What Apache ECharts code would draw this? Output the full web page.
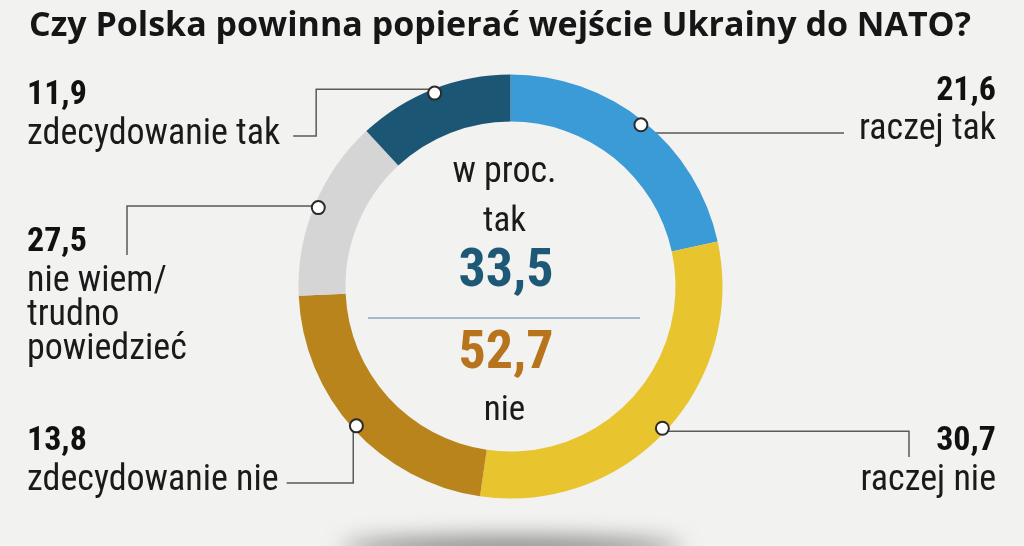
<!DOCTYPE html>
<html><head><meta charset="utf-8">
<script src="https://cdn.jsdelivr.net/npm/echarts/dist/echarts.min.js"></script>
<style>html,body{margin:0;padding:0;background:#f2f2f0}#c{width:1024px;height:546px}</style>
</head><body><div id="c"></div><script>
// ---- data ----
const title = 'Czy Polska powinna popierać wejście Ukrainy do NATO?';
const categories = ['raczej tak', 'raczej nie', 'zdecydowanie nie', 'nie wiem/\ntrudno\npowiedzieć', 'zdecydowanie tak'];
const sliceValues = [21.6, 30.7, 22.0, 13.8, 11.9];       // arc sizes as drawn
const labelValues = ['21,6', '30,7', '13,8', '27,5', '11,9']; // numbers as printed
const colors = ['#3a9bd7', '#e8c42f', '#b8841b', '#d5d5d5', '#1b5774'];
const yesIdx = [0, 4];
const noIdx = [1, 2];
const centerTexts = ['w proc.', 'tak', 'nie'];

// ---- layout ----
const FONT = '"Roboto Condensed","Liberation Sans Narrow","DejaVu Sans Condensed",Roboto,sans-serif';
const TFONT = '"Open Sans",Roboto,sans-serif';
const CX = 510.5, CY = 286.5, R0 = 165, R1 = 212;
const TX = 504.5;
const SIDE = ['R', 'R', 'L', 'L', 'L'];
const ANCHOR = [
  { x: 996, y: 69 }, { x: 996, y: 419.5 }, { x: 27, y: 419.5 }, { x: 27, y: 220.5 }, { x: 27, y: 73.5 }
];

function fmt(v) { return v.toFixed(1).replace('.', ','); }
const yesSum = yesIdx.reduce((a, i) => a + sliceValues[i], 0);
const noSum = noIdx.reduce((a, i) => a + sliceValues[i], 0);
const total = sliceValues.reduce((a, b) => a + b, 0);
let cum = 0;
const markerData = sliceValues.map(v => { const m = (cum + v / 2) / total * 100; cum += v; return [98, m]; });

function leader(i, s, w) {
  const a = ANCHOR[i];
  switch (i) {
    case 0: return [s, [s[0], a.y + 64], [a.x - w - 15, a.y + 64]];
    case 1: return [s, [a.x - 87, s[1]], [a.x - 87, a.y + 37.5]];
    case 2: return [s, [s[0], a.y + 63.5], [a.x + w + 8, a.y + 63.5]];
    case 3: return [s, [a.x + 100, s[1]], [a.x + 100, a.y + 34.5]];
    case 4: return [s, [a.x + w + 36, s[1]], [a.x + w + 36, a.y + 62.5], [a.x + w + 13, a.y + 62.5]];
  }
}

const rich = {
  vL: { fontFamily: FONT, fontSize: 34, fontWeight: 'bold', color: '#111', lineHeight: 44, align: 'left' },
  nL: { fontFamily: FONT, fontSize: 36, color: '#1a1a1a', lineHeight: 34, align: 'left' },
  vR: { fontFamily: FONT, fontSize: 34, fontWeight: 'bold', color: '#111', lineHeight: 44, align: 'right' },
  nR: { fontFamily: FONT, fontSize: 36, color: '#1a1a1a', lineHeight: 34, align: 'right' }
};

const chart = echarts.init(document.getElementById('c'), null, { renderer: 'canvas' });
chart.setOption({
  backgroundColor: '#f2f2f0',
  animation: false,
  title: {
    text: title, left: 24, top: 4,
    textStyle: { fontFamily: TFONT, fontSize: 34, fontWeight: 'bold', color: '#161616' }
  },
  polar: { center: [CX, CY], radius: R1 },
  angleAxis: { type: 'value', min: 0, max: 100, startAngle: 90, clockwise: true, show: false },
  radiusAxis: { type: 'value', min: 0, max: 100, show: false },
  graphic: [
    { type: 'ellipse', shape: { cx: 512, cy: 610, rx: 170, ry: 10 }, z: -1,
      style: { fill: '#000', shadowBlur: 22, shadowOffsetY: -62, shadowColor: 'rgba(0,0,0,0.5)' } },
    { type: 'text', x: TX, y: 172.5, style: { text: centerTexts[0], fontFamily: FONT, fontSize: 36, fill: '#1a1a1a', align: 'center', verticalAlign: 'middle' } },
    { type: 'text', x: TX, y: 222.5, style: { text: centerTexts[1], fontFamily: FONT, fontSize: 35, fill: '#1a1a1a', align: 'center', verticalAlign: 'middle' } },
    { type: 'text', x: TX + 1.5, y: 272, style: { text: fmt(yesSum), fontFamily: FONT, fontSize: 54, fontWeight: 'bold', fill: '#1d5876', align: 'center', verticalAlign: 'middle' } },
    { type: 'line', shape: { x1: 368, y1: 318, x2: 640, y2: 318 }, style: { stroke: '#88a7be', lineWidth: 1.5 } },
    { type: 'text', x: TX + 1.5, y: 354.5, style: { text: fmt(noSum), fontFamily: FONT, fontSize: 54, fontWeight: 'bold', fill: '#b7741d', align: 'center', verticalAlign: 'middle' } },
    { type: 'text', x: TX, y: 411, style: { text: centerTexts[2], fontFamily: FONT, fontSize: 35, fill: '#1a1a1a', align: 'center', verticalAlign: 'middle' } }
  ],
  series: [
    {
      type: 'pie',
      center: [CX, CY],
      radius: [R0, R1],
      startAngle: 90,
      clockwise: true,
      avoidLabelOverlap: false,
      silent: true,
      data: categories.map((name, i) => ({ name, value: sliceValues[i], itemStyle: { color: colors[i] } })),
      label: {
        show: true,
        position: 'outside',
        rich,
        formatter: p => {
          const i = p.dataIndex, s = SIDE[i];
          return `{v${s}|${labelValues[i]}}\n` + categories[i].split('\n').map(l => `{n${s}|${l}}`).join('\n');
        }
      },
      labelLine: { show: true, smooth: false, lineStyle: { color: '#5a5a5a', width: 1.5 } },
      labelLayout: p => {
        const i = p.dataIndex, a = ANCHOR[i];
        const s = p.labelLinePoints ? p.labelLinePoints[0] : [CX, CY];
        return {
          x: a.x, y: a.y,
          align: SIDE[i] === 'L' ? 'left' : 'right',
          verticalAlign: 'top',
          labelLinePoints: leader(i, s, p.labelRect.width)
        };
      }
    },
    {
      type: 'scatter',
      coordinateSystem: 'polar',
      data: markerData,
      symbol: 'circle',
      symbolSize: 13,
      silent: true,
      z: 5,
      itemStyle: { color: '#ffffff', borderColor: '#2a2a2a', borderWidth: 2, opacity: 1 }
    }
  ]
});
</script></body></html>
